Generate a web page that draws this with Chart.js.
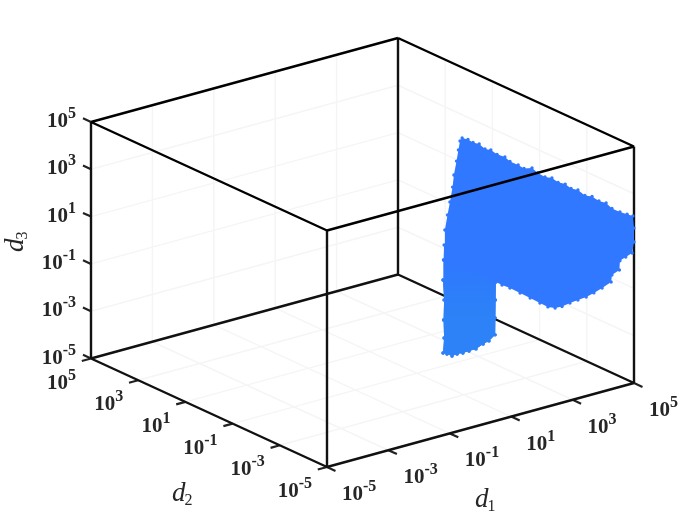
<!DOCTYPE html>
<html>
<head>
<meta charset="utf-8">
<title>d1 d2 d3</title>
<script src="https://cdn.jsdelivr.net/npm/chart.js@4/dist/chart.umd.min.js"></script>
<style>
  html, body { margin: 0; padding: 0; background: #fff; }
  #wrap { width: 700px; height: 525px; }
</style>
</head>
<body>
<div id="wrap"><canvas id="chart" width="700" height="525"></canvas></div>
<script>
// all values are log10 of d1, d2, d3
const TICKS = [-5, -3, -1, 1, 3, 5];
const TICK_SUPS = ['-5', '-3', '-1', '1', '3', '5'];

// outline of the point cloud
const cloudD1 = [2.30, 2.39, 2.47, 2.57, 2.66, 2.75, 2.85, 2.97, 3.05, 3.18, 3.27, 3.40, 3.49, 3.60, 3.71, 3.81, 3.92, 4.01, 4.12, 4.23, 4.34, 4.45, 4.56, 4.65, 4.78, 4.89, 4.98,
  5.00, 5.00, 4.97, 4.87, 4.78, 4.77, 4.65, 4.64, 4.50, 4.37, 4.25, 4.12, 3.99, 3.87, 3.76, 3.65, 3.52, 3.37, 3.21, 3.05, 2.93,
  2.83, 2.82, 2.82, 2.82, 2.72, 2.63, 2.52, 2.41, 2.31, 2.22, 2.14, 2.06, 2.00, 2.02, 2.01, 2.02, 2.00, 2.01,
  2.02, 2.03, 2.07, 2.11, 2.15, 2.17, 2.21, 2.24, 2.27];
const cloudD2 = [-1.23, -1.36, -1.47, -1.60, -1.73, -1.86, -1.99, -2.17, -2.28, -2.46, -2.59, -2.76, -2.89, -3.05, -3.20, -3.33, -3.49, -3.62, -3.77, -3.92, -4.08, -4.23, -4.39, -4.52, -4.69, -4.85, -4.98,
  -5.00, -5.00, -4.96, -4.82, -4.69, -4.68, -4.52, -4.50, -4.30, -4.12, -3.95, -3.77, -3.60, -3.42, -3.27, -3.11, -2.94, -2.72, -2.50, -2.28, -2.10,
  -1.97, -1.96, -1.95, -1.95, -1.82, -1.69, -1.53, -1.38, -1.25, -1.12, -1.01, -0.90, -0.81, -0.83, -0.82, -0.83, -0.81, -0.82,
  -0.83, -0.85, -0.91, -0.96, -1.02, -1.05, -1.11, -1.15, -1.18];
const cloudD3 = [4.59, 4.55, 4.45, 4.41, 4.23, 4.21, 4.05, 3.98, 3.81, 3.70, 3.58, 3.63, 3.45, 3.31, 3.30, 3.14, 3.10, 2.94, 2.91, 2.71, 2.70, 2.54, 2.49, 2.28, 2.17, 2.11, 2.06,
  1.55, 0.96, 0.49, 0.29, 0.10, -0.29, -0.53, -0.83, -1.13, -1.37, -1.58, -1.74, -1.90, -2.09, -2.18, -2.17, -2.04, -1.87, -1.71, -1.54, -1.45,
  -1.35, -2.11, -2.87, -3.59, -3.87, -4.03, -4.27, -4.39, -4.50, -4.57, -4.67, -4.61, -4.59, -3.95, -3.19, -2.34, -1.50, -0.65,
  -0.02, 0.62, 1.27, 1.83, 2.47, 2.99, 3.59, 4.07, 4.45];
// the lower stem of the cloud is a bit lighter
const STEM_FROM = 48;
const STEM_TO = 66;

const CLOUD_COLOR = '#2F78FF';
const STEM_COLOR = '#2C82F6';
const TEXT_COLOR = '#262626';
const TICK_FONT = 'bold 21px "Liberation Serif"';
const SUP_FONT = 'bold 16px "Liberation Serif"';

// 3d view: pixel position of the d1=d2=d3=1e-5 corner and pixels per decade
function project(p) {
  var a = p[0] + 5, c = p[1] + 5, b = p[2] + 5;
  return { x: 327 + 30.7 * a - 23.6 * c, y: 467 - 8.4 * a - 10.85 * c - 23.65 * b };
}

function segments(list) {
  var out = [];
  list.forEach(function(s) {
    out.push(project(s[0]), project(s[1]), { x: null, y: null });
  });
  return out;
}

function gridSegments() {
  var list = [];
  TICKS.slice(1, -1).forEach(function(t) {
    // floor
    list.push([[t, -5, -5], [t, 5, -5]]);
    list.push([[-5, t, -5], [5, t, -5]]);
    // wall at d2 = 1e5
    list.push([[t, 5, -5], [t, 5, 5]]);
    list.push([[-5, 5, t], [5, 5, t]]);
    // wall at d1 = 1e5
    list.push([[5, t, -5], [5, t, 5]]);
    list.push([[5, -5, t], [5, 5, t]]);
  });
  return segments(list);
}

function lowerEdges() {
  return segments([
    [[-5, -5, -5], [5, -5, -5]], [[5, -5, -5], [5, 5, -5]],
    [[5, 5, -5], [-5, 5, -5]], [[-5, 5, -5], [-5, -5, -5]],
    [[5, -5, -5], [5, -5, 5]], [[5, 5, -5], [5, 5, 5]],
    [[-5, -5, -5], [-5, -5, 5]], [[-5, 5, -5], [-5, 5, 5]]
  ]);
}

function upperEdges() {
  return segments([
    [[-5, -5, 5], [5, -5, 5]], [[5, -5, 5], [5, 5, 5]],
    [[5, 5, 5], [-5, 5, 5]], [[-5, 5, 5], [-5, -5, 5]]
  ]);
}

function tickSegments() {
  var list = [];
  TICKS.forEach(function(t) {
    list.push([[t, -5, -5], [t, -5.36, -5]]);
    list.push([[-5, t, -5], [-5.3, t, -5]]);
    list.push([[-5, 5, t], [-5, 5.34, t]]);
  });
  return segments(list);
}

function cloudPoints(from, to) {
  var out = [];
  for (var i = from; i < to; i++) out.push(project([cloudD1[i], cloudD2[i], cloudD3[i]]));
  return out;
}

// fades from the cloud colour into the stem colour going down the stem
function stemFill(context) {
  var chart = context.chart;
  if (!chart.chartArea) return STEM_COLOR;
  var top = project([cloudD1[STEM_TO - 1], cloudD2[STEM_TO - 1], cloudD3[STEM_TO - 1]]);
  var mid = project([cloudD1[STEM_FROM + 2], cloudD2[STEM_FROM + 2], cloudD3[STEM_FROM + 2]]);
  var g = chart.ctx.createLinearGradient(0, chart.scales.y.getPixelForValue(top.y), 0, chart.scales.y.getPixelForValue(mid.y));
  g.addColorStop(0, CLOUD_COLOR);
  g.addColorStop(1, STEM_COLOR);
  return g;
}

function lineSet(data, color, width, order) {
  return { data: data, showLine: true, borderColor: color, borderWidth: width, pointRadius: 0, fill: false, order: order, spanGaps: false };
}

function cloudSet(data, color, order) {
  return { data: data, showLine: true, borderWidth: 0, borderColor: color, backgroundColor: color, pointBackgroundColor: color, pointBorderWidth: 0, pointRadius: 1.7, fill: 'shape', order: order };
}

function drawTick(ctx, px, py, sup, align) {
  ctx.font = TICK_FONT;
  var w1 = ctx.measureText('10').width;
  ctx.font = SUP_FONT;
  var w2 = ctx.measureText(sup).width;
  var left = align === 'right' ? px - w1 - w2 : px;
  ctx.font = TICK_FONT;
  ctx.fillText('10', left, py);
  ctx.font = SUP_FONT;
  ctx.fillText(sup, left + w1, py - 9);
}

function drawAxisName(ctx, px, py, sub, rotate) {
  ctx.save();
  ctx.translate(px, py);
  if (rotate) ctx.rotate(-Math.PI / 2);
  ctx.font = 'italic 27px "Liberation Serif"';
  ctx.fillText('d', 0, 0);
  var w = ctx.measureText('d').width;
  ctx.font = '16px "Liberation Serif"';
  ctx.fillText(sub, w - 1, 4);
  ctx.restore();
}

const labelsPlugin = {
  id: 'labels3d',
  afterDraw: function(chart) {
    var ctx = chart.ctx, sx = chart.scales.x, sy = chart.scales.y;
    ctx.save();
    ctx.fillStyle = TEXT_COLOR;
    ctx.textAlign = 'left';
    ctx.textBaseline = 'alphabetic';
    TICKS.forEach(function(t, i) {
      var p = project([t, -5, -5]);
      drawTick(ctx, sx.getPixelForValue(p.x) + 15, sy.getPixelForValue(p.y) + 33, TICK_SUPS[i], 'left');
      p = project([-5, t, -5]);
      drawTick(ctx, sx.getPixelForValue(p.x) - 15, sy.getPixelForValue(p.y) + 30, TICK_SUPS[i], 'right');
      p = project([-5, 5, t]);
      drawTick(ctx, sx.getPixelForValue(p.x) - 15, sy.getPixelForValue(p.y) + 5, TICK_SUPS[i], 'right');
    });
    drawAxisName(ctx, 475, 507, '1', false);
    drawAxisName(ctx, 172, 501, '2', false);
    drawAxisName(ctx, 23, 252, '3', true);
    ctx.restore();
  }
};

var stemSet = cloudSet(cloudPoints(STEM_FROM, STEM_TO), STEM_COLOR, 1);
stemSet.backgroundColor = stemFill;
stemSet.pointBackgroundColor = stemFill;

new Chart(document.getElementById('chart'), {
  type: 'scatter',
  data: {
    datasets: [
      lineSet(upperEdges(), '#000', 2.4, 0),
      stemSet,
      cloudSet(cloudPoints(0, cloudD1.length), CLOUD_COLOR, 2),
      lineSet(lowerEdges(), '#111', 2.4, 3),
      lineSet(tickSegments(), '#222', 2.2, 4),
      lineSet(gridSegments(), '#F5F5F5', 1.5, 5)
    ]
  },
  options: {
    responsive: false,
    animation: false,
    events: [],
    layout: { padding: 0, autoPadding: false },
    plugins: { legend: { display: false }, tooltip: { enabled: false } },
    scales: {
      x: { type: 'linear', min: 0, max: 700, display: false },
      y: { type: 'linear', min: 0, max: 525, reverse: true, display: false }
    }
  },
  plugins: [labelsPlugin]
});
</script>
</body>
</html>
